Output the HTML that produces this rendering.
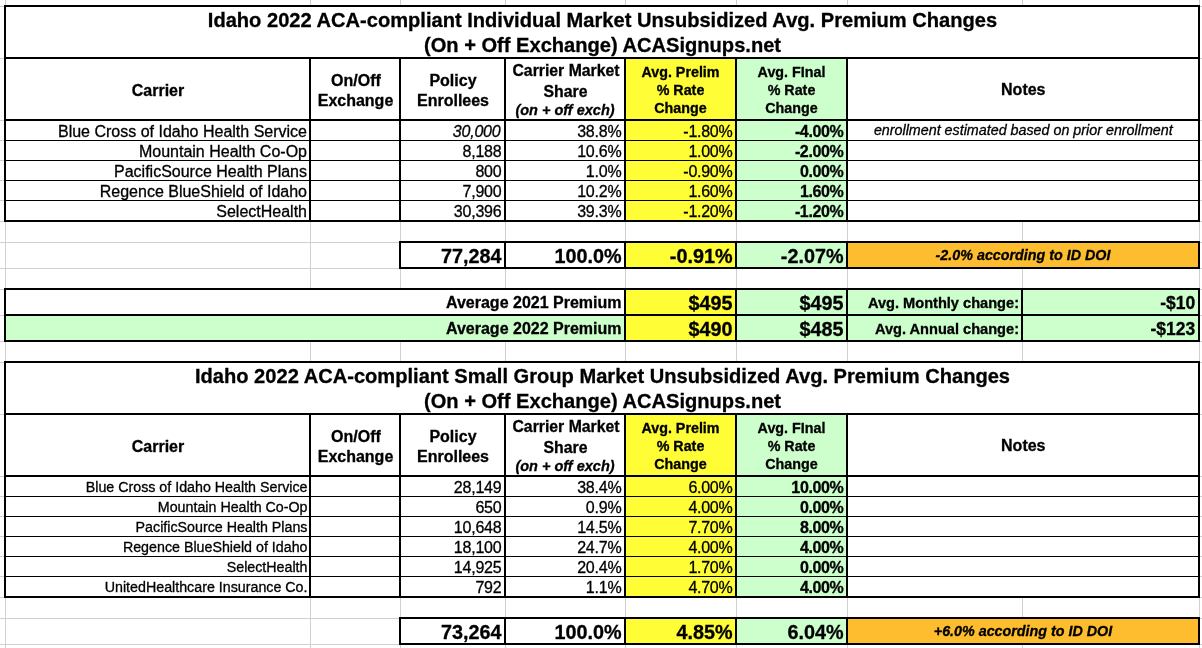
<!DOCTYPE html>
<html><head><meta charset="utf-8"><title>Idaho 2022 ACA Premium Changes</title>
<style>
html,body{margin:0;padding:0;background:#fff}
body{width:1202px;height:648px;position:relative;overflow:hidden;font-family:"Liberation Sans",Arial,Helvetica,sans-serif;color:#000}
.r{position:absolute}
.t{position:absolute;white-space:nowrap;-webkit-text-stroke:0.3px #000}
.b{font-weight:bold}
.i{font-style:italic}
</style></head><body>
<div class="r" style="left:626px;top:59px;width:109px;height:161px;background:#fffd36"></div>
<div class="r" style="left:737px;top:59px;width:109px;height:161px;background:#ccffcc"></div>
<div class="r" style="left:626px;top:243px;width:109px;height:24px;background:#fffd36"></div>
<div class="r" style="left:737px;top:243px;width:109px;height:24px;background:#ccffcc"></div>
<div class="r" style="left:848px;top:243px;width:350px;height:24px;background:#fdbd2e"></div>
<div class="r" style="left:626px;top:290px;width:109px;height:50px;background:#fffd36"></div>
<div class="r" style="left:737px;top:290px;width:461px;height:50px;background:#ccffcc"></div>
<div class="r" style="left:6px;top:316px;width:618px;height:24px;background:#ccffcc"></div>
<div class="r" style="left:626px;top:415px;width:109px;height:181px;background:#fffd36"></div>
<div class="r" style="left:737px;top:415px;width:109px;height:181px;background:#ccffcc"></div>
<div class="r" style="left:626px;top:619px;width:109px;height:24px;background:#fffd36"></div>
<div class="r" style="left:737px;top:619px;width:109px;height:24px;background:#ccffcc"></div>
<div class="r" style="left:848px;top:619px;width:350px;height:24px;background:#fdbd2e"></div>
<div class="r" style="left:5px;top:0px;width:1px;height:648px;background:#d0d0d0"></div>
<div class="r" style="left:310px;top:0px;width:1px;height:648px;background:#d0d0d0"></div>
<div class="r" style="left:400px;top:0px;width:1px;height:648px;background:#d0d0d0"></div>
<div class="r" style="left:505px;top:0px;width:1px;height:648px;background:#d0d0d0"></div>
<div class="r" style="left:625px;top:0px;width:1px;height:648px;background:#d0d0d0"></div>
<div class="r" style="left:736px;top:0px;width:1px;height:648px;background:#d0d0d0"></div>
<div class="r" style="left:847px;top:0px;width:1px;height:648px;background:#d0d0d0"></div>
<div class="r" style="left:1022px;top:0px;width:1px;height:648px;background:#d0d0d0"></div>
<div class="r" style="left:1199px;top:0px;width:1px;height:648px;background:#d0d0d0"></div>
<div class="r" style="left:0px;top:6px;width:1202px;height:1px;background:#d0d0d0"></div>
<div class="r" style="left:0px;top:58px;width:1202px;height:1px;background:#d0d0d0"></div>
<div class="r" style="left:0px;top:120px;width:1202px;height:1px;background:#d0d0d0"></div>
<div class="r" style="left:0px;top:140px;width:1202px;height:1px;background:#d0d0d0"></div>
<div class="r" style="left:0px;top:160px;width:1202px;height:1px;background:#d0d0d0"></div>
<div class="r" style="left:0px;top:180px;width:1202px;height:1px;background:#d0d0d0"></div>
<div class="r" style="left:0px;top:200px;width:1202px;height:1px;background:#d0d0d0"></div>
<div class="r" style="left:0px;top:221px;width:1202px;height:1px;background:#d0d0d0"></div>
<div class="r" style="left:0px;top:242px;width:1202px;height:1px;background:#d0d0d0"></div>
<div class="r" style="left:0px;top:268px;width:1202px;height:1px;background:#d0d0d0"></div>
<div class="r" style="left:0px;top:289px;width:1202px;height:1px;background:#d0d0d0"></div>
<div class="r" style="left:0px;top:315px;width:1202px;height:1px;background:#d0d0d0"></div>
<div class="r" style="left:0px;top:341px;width:1202px;height:1px;background:#d0d0d0"></div>
<div class="r" style="left:0px;top:362px;width:1202px;height:1px;background:#d0d0d0"></div>
<div class="r" style="left:0px;top:414px;width:1202px;height:1px;background:#d0d0d0"></div>
<div class="r" style="left:0px;top:476px;width:1202px;height:1px;background:#d0d0d0"></div>
<div class="r" style="left:0px;top:496px;width:1202px;height:1px;background:#d0d0d0"></div>
<div class="r" style="left:0px;top:516px;width:1202px;height:1px;background:#d0d0d0"></div>
<div class="r" style="left:0px;top:536px;width:1202px;height:1px;background:#d0d0d0"></div>
<div class="r" style="left:0px;top:556px;width:1202px;height:1px;background:#d0d0d0"></div>
<div class="r" style="left:0px;top:576px;width:1202px;height:1px;background:#d0d0d0"></div>
<div class="r" style="left:0px;top:597px;width:1202px;height:1px;background:#d0d0d0"></div>
<div class="r" style="left:0px;top:618px;width:1202px;height:1px;background:#d0d0d0"></div>
<div class="r" style="left:0px;top:644px;width:1202px;height:1px;background:#d0d0d0"></div>
<div class="r" style="left:6px;top:7px;width:1192px;height:50px;background:#fff"></div>
<div class="r" style="left:6px;top:59px;width:303px;height:60px;background:#fff"></div>
<div class="r" style="left:848px;top:59px;width:350px;height:60px;background:#fff"></div>
<div class="r" style="left:6px;top:363px;width:1192px;height:50px;background:#fff"></div>
<div class="r" style="left:6px;top:290px;width:618px;height:24px;background:#fff"></div>
<div class="r" style="left:848px;top:121px;width:350px;height:99px;background:#fff"></div>
<div class="r" style="left:6px;top:415px;width:303px;height:60px;background:#fff"></div>
<div class="r" style="left:848px;top:415px;width:350px;height:60px;background:#fff"></div>
<div class="r" style="left:848px;top:477px;width:350px;height:119px;background:#fff"></div>
<div class="r" style="left:626px;top:59px;width:109px;height:161px;background:#fffd36"></div>
<div class="r" style="left:737px;top:59px;width:109px;height:161px;background:#ccffcc"></div>
<div class="r" style="left:626px;top:243px;width:109px;height:24px;background:#fffd36"></div>
<div class="r" style="left:737px;top:243px;width:109px;height:24px;background:#ccffcc"></div>
<div class="r" style="left:848px;top:243px;width:350px;height:24px;background:#fdbd2e"></div>
<div class="r" style="left:626px;top:290px;width:109px;height:50px;background:#fffd36"></div>
<div class="r" style="left:737px;top:290px;width:461px;height:50px;background:#ccffcc"></div>
<div class="r" style="left:6px;top:316px;width:618px;height:24px;background:#ccffcc"></div>
<div class="r" style="left:626px;top:415px;width:109px;height:181px;background:#fffd36"></div>
<div class="r" style="left:737px;top:415px;width:109px;height:181px;background:#ccffcc"></div>
<div class="r" style="left:626px;top:619px;width:109px;height:24px;background:#fffd36"></div>
<div class="r" style="left:737px;top:619px;width:109px;height:24px;background:#ccffcc"></div>
<div class="r" style="left:848px;top:619px;width:350px;height:24px;background:#fdbd2e"></div>
<div class="r" style="left:4px;top:5px;width:1196px;height:2px;background:#000"></div>
<div class="r" style="left:4px;top:57px;width:1196px;height:2px;background:#000"></div>
<div class="r" style="left:4px;top:119px;width:1196px;height:2px;background:#000"></div>
<div class="r" style="left:4px;top:220px;width:1196px;height:2px;background:#000"></div>
<div class="r" style="left:4px;top:140px;width:1196px;height:1px;background:#000"></div>
<div class="r" style="left:4px;top:160px;width:1196px;height:1px;background:#000"></div>
<div class="r" style="left:4px;top:180px;width:1196px;height:1px;background:#000"></div>
<div class="r" style="left:4px;top:200px;width:1196px;height:1px;background:#000"></div>
<div class="r" style="left:4px;top:5px;width:2px;height:217px;background:#000"></div>
<div class="r" style="left:1198px;top:5px;width:2px;height:217px;background:#000"></div>
<div class="r" style="left:309px;top:57px;width:2px;height:165px;background:#000"></div>
<div class="r" style="left:399px;top:57px;width:2px;height:165px;background:#000"></div>
<div class="r" style="left:504px;top:57px;width:2px;height:165px;background:#000"></div>
<div class="r" style="left:624px;top:57px;width:2px;height:165px;background:#000"></div>
<div class="r" style="left:735px;top:57px;width:2px;height:165px;background:#000"></div>
<div class="r" style="left:846px;top:57px;width:2px;height:165px;background:#000"></div>
<div class="r" style="left:4px;top:361px;width:1196px;height:2px;background:#000"></div>
<div class="r" style="left:4px;top:413px;width:1196px;height:2px;background:#000"></div>
<div class="r" style="left:4px;top:475px;width:1196px;height:2px;background:#000"></div>
<div class="r" style="left:4px;top:596px;width:1196px;height:2px;background:#000"></div>
<div class="r" style="left:4px;top:496px;width:1196px;height:1px;background:#000"></div>
<div class="r" style="left:4px;top:516px;width:1196px;height:1px;background:#000"></div>
<div class="r" style="left:4px;top:536px;width:1196px;height:1px;background:#000"></div>
<div class="r" style="left:4px;top:556px;width:1196px;height:1px;background:#000"></div>
<div class="r" style="left:4px;top:576px;width:1196px;height:1px;background:#000"></div>
<div class="r" style="left:4px;top:361px;width:2px;height:237px;background:#000"></div>
<div class="r" style="left:1198px;top:361px;width:2px;height:237px;background:#000"></div>
<div class="r" style="left:309px;top:413px;width:2px;height:185px;background:#000"></div>
<div class="r" style="left:399px;top:413px;width:2px;height:185px;background:#000"></div>
<div class="r" style="left:504px;top:413px;width:2px;height:185px;background:#000"></div>
<div class="r" style="left:624px;top:413px;width:2px;height:185px;background:#000"></div>
<div class="r" style="left:735px;top:413px;width:2px;height:185px;background:#000"></div>
<div class="r" style="left:846px;top:413px;width:2px;height:185px;background:#000"></div>
<div class="r" style="left:399px;top:241px;width:801px;height:2px;background:#000"></div>
<div class="r" style="left:399px;top:267px;width:801px;height:2px;background:#000"></div>
<div class="r" style="left:399px;top:241px;width:2px;height:28px;background:#000"></div>
<div class="r" style="left:504px;top:241px;width:2px;height:28px;background:#000"></div>
<div class="r" style="left:624px;top:241px;width:2px;height:28px;background:#000"></div>
<div class="r" style="left:735px;top:241px;width:2px;height:28px;background:#000"></div>
<div class="r" style="left:846px;top:241px;width:2px;height:28px;background:#000"></div>
<div class="r" style="left:1198px;top:241px;width:2px;height:28px;background:#000"></div>
<div class="r" style="left:399px;top:617px;width:801px;height:2px;background:#000"></div>
<div class="r" style="left:399px;top:643px;width:801px;height:2px;background:#000"></div>
<div class="r" style="left:399px;top:617px;width:2px;height:28px;background:#000"></div>
<div class="r" style="left:504px;top:617px;width:2px;height:28px;background:#000"></div>
<div class="r" style="left:624px;top:617px;width:2px;height:28px;background:#000"></div>
<div class="r" style="left:735px;top:617px;width:2px;height:28px;background:#000"></div>
<div class="r" style="left:846px;top:617px;width:2px;height:28px;background:#000"></div>
<div class="r" style="left:1198px;top:617px;width:2px;height:28px;background:#000"></div>
<div class="r" style="left:4px;top:288px;width:1196px;height:2px;background:#000"></div>
<div class="r" style="left:4px;top:314px;width:1196px;height:2px;background:#000"></div>
<div class="r" style="left:4px;top:340px;width:1196px;height:2px;background:#000"></div>
<div class="r" style="left:4px;top:288px;width:2px;height:54px;background:#000"></div>
<div class="r" style="left:624px;top:288px;width:2px;height:54px;background:#000"></div>
<div class="r" style="left:735px;top:288px;width:2px;height:54px;background:#000"></div>
<div class="r" style="left:846px;top:288px;width:2px;height:54px;background:#000"></div>
<div class="r" style="left:1021px;top:288px;width:2px;height:54px;background:#000"></div>
<div class="r" style="left:1198px;top:288px;width:2px;height:54px;background:#000"></div>
<div class="t b" style="top:10px;font-size:20.1px;line-height:20.1px;left:2.5px;width:1200px;text-align:center;">Idaho 2022 ACA-compliant Individual Market Unsubsidized Avg. Premium Changes</div>
<div class="t b" style="top:35px;font-size:20.1px;line-height:20.1px;left:2.5px;width:1200px;text-align:center;">(On + Off Exchange) ACASignups.net</div>
<div class="t b" style="top:366px;font-size:20.1px;line-height:20.1px;left:2.5px;width:1200px;text-align:center;">Idaho 2022 ACA-compliant Small Group Market Unsubsidized Avg. Premium Changes</div>
<div class="t b" style="top:391px;font-size:20.1px;line-height:20.1px;left:2.5px;width:1200px;text-align:center;">(On + Off Exchange) ACASignups.net</div>
<div class="t b" style="top:83px;font-size:16px;line-height:16px;left:-442px;width:1200px;text-align:center;">Carrier</div>
<div class="t b" style="top:73px;font-size:16px;line-height:16px;left:-244px;width:1200px;text-align:center;">On/Off</div>
<div class="t b" style="top:93px;font-size:16px;line-height:16px;left:-244.5px;width:1200px;text-align:center;">Exchange</div>
<div class="t b" style="top:73px;font-size:16px;line-height:16px;left:-147px;width:1200px;text-align:center;">Policy</div>
<div class="t b" style="top:93px;font-size:16px;line-height:16px;left:-147px;width:1200px;text-align:center;">Enrollees</div>
<div class="t b" style="top:63px;font-size:15.8px;line-height:15.8px;left:-34px;width:1200px;text-align:center;">Carrier Market</div>
<div class="t b" style="top:84px;font-size:15.8px;line-height:15.8px;left:-34.5px;width:1200px;text-align:center;">Share</div>
<div class="t b i" style="top:103px;font-size:14.5px;line-height:14.5px;left:-35px;width:1200px;text-align:center;">(on + off exch)</div>
<div class="t b" style="top:65px;font-size:14.3px;line-height:14.3px;left:80.5px;width:1200px;text-align:center;">Avg. Prelim</div>
<div class="t b" style="top:83px;font-size:14.3px;line-height:14.3px;left:80.5px;width:1200px;text-align:center;">% Rate</div>
<div class="t b" style="top:101px;font-size:14.3px;line-height:14.3px;left:80.5px;width:1200px;text-align:center;">Change</div>
<div class="t b" style="top:65px;font-size:14.3px;line-height:14.3px;left:191.5px;width:1200px;text-align:center;">Avg. FInal</div>
<div class="t b" style="top:83px;font-size:14.3px;line-height:14.3px;left:191.5px;width:1200px;text-align:center;">% Rate</div>
<div class="t b" style="top:101px;font-size:14.3px;line-height:14.3px;left:191.5px;width:1200px;text-align:center;">Change</div>
<div class="t b" style="top:82px;font-size:16px;line-height:16px;left:423.29999999999995px;width:1200px;text-align:center;">Notes</div>
<div class="t b" style="top:439px;font-size:16px;line-height:16px;left:-442px;width:1200px;text-align:center;">Carrier</div>
<div class="t b" style="top:429px;font-size:16px;line-height:16px;left:-244px;width:1200px;text-align:center;">On/Off</div>
<div class="t b" style="top:449px;font-size:16px;line-height:16px;left:-244.5px;width:1200px;text-align:center;">Exchange</div>
<div class="t b" style="top:429px;font-size:16px;line-height:16px;left:-147px;width:1200px;text-align:center;">Policy</div>
<div class="t b" style="top:449px;font-size:16px;line-height:16px;left:-147px;width:1200px;text-align:center;">Enrollees</div>
<div class="t b" style="top:419px;font-size:15.8px;line-height:15.8px;left:-34px;width:1200px;text-align:center;">Carrier Market</div>
<div class="t b" style="top:440px;font-size:15.8px;line-height:15.8px;left:-34.5px;width:1200px;text-align:center;">Share</div>
<div class="t b i" style="top:459px;font-size:14.5px;line-height:14.5px;left:-35px;width:1200px;text-align:center;">(on + off exch)</div>
<div class="t b" style="top:421px;font-size:14.3px;line-height:14.3px;left:80.5px;width:1200px;text-align:center;">Avg. Prelim</div>
<div class="t b" style="top:439px;font-size:14.3px;line-height:14.3px;left:80.5px;width:1200px;text-align:center;">% Rate</div>
<div class="t b" style="top:457px;font-size:14.3px;line-height:14.3px;left:80.5px;width:1200px;text-align:center;">Change</div>
<div class="t b" style="top:421px;font-size:14.3px;line-height:14.3px;left:191.5px;width:1200px;text-align:center;">Avg. FInal</div>
<div class="t b" style="top:439px;font-size:14.3px;line-height:14.3px;left:191.5px;width:1200px;text-align:center;">% Rate</div>
<div class="t b" style="top:457px;font-size:14.3px;line-height:14.3px;left:191.5px;width:1200px;text-align:center;">Change</div>
<div class="t b" style="top:438px;font-size:16px;line-height:16px;left:423.29999999999995px;width:1200px;text-align:center;">Notes</div>
<div class="t " style="top:124px;font-size:16px;line-height:16px;right:895px;">Blue Cross of Idaho Health Service</div>
<div class="t i" style="top:124px;font-size:16px;line-height:16px;letter-spacing:-0.2px;right:701.5px;">30,000</div>
<div class="t " style="top:124px;font-size:16px;line-height:16px;letter-spacing:-0.2px;right:580.5px;">38.8%</div>
<div class="t " style="top:124px;font-size:16px;line-height:16px;letter-spacing:-0.25px;right:469.5px;">-1.80%</div>
<div class="t b" style="top:124px;font-size:16px;line-height:16px;letter-spacing:-0.35px;right:358.5px;">-4.00%</div>
<div class="t i" style="top:123px;font-size:14.3px;line-height:14.3px;left:423.29999999999995px;width:1200px;text-align:center;">enrollment estimated based on prior enrollment</div>
<div class="t " style="top:144px;font-size:16px;line-height:16px;right:895px;">Mountain Health Co-Op</div>
<div class="t " style="top:144px;font-size:16px;line-height:16px;letter-spacing:-0.2px;right:700.5px;">8,188</div>
<div class="t " style="top:144px;font-size:16px;line-height:16px;letter-spacing:-0.2px;right:580.5px;">10.6%</div>
<div class="t " style="top:144px;font-size:16px;line-height:16px;letter-spacing:-0.25px;right:469.5px;">1.00%</div>
<div class="t b" style="top:144px;font-size:16px;line-height:16px;letter-spacing:-0.35px;right:358.5px;">-2.00%</div>
<div class="t " style="top:164px;font-size:16px;line-height:16px;right:895px;">PacificSource Health Plans</div>
<div class="t " style="top:164px;font-size:16px;line-height:16px;letter-spacing:-0.2px;right:700.5px;">800</div>
<div class="t " style="top:164px;font-size:16px;line-height:16px;letter-spacing:-0.2px;right:580.5px;">1.0%</div>
<div class="t " style="top:164px;font-size:16px;line-height:16px;letter-spacing:-0.25px;right:469.5px;">-0.90%</div>
<div class="t b" style="top:164px;font-size:16px;line-height:16px;letter-spacing:-0.35px;right:358.5px;">0.00%</div>
<div class="t " style="top:184px;font-size:16px;line-height:16px;right:895px;">Regence BlueShield of Idaho</div>
<div class="t " style="top:184px;font-size:16px;line-height:16px;letter-spacing:-0.2px;right:700.5px;">7,900</div>
<div class="t " style="top:184px;font-size:16px;line-height:16px;letter-spacing:-0.2px;right:580.5px;">10.2%</div>
<div class="t " style="top:184px;font-size:16px;line-height:16px;letter-spacing:-0.25px;right:469.5px;">1.60%</div>
<div class="t b" style="top:184px;font-size:16px;line-height:16px;letter-spacing:-0.35px;right:358.5px;">1.60%</div>
<div class="t " style="top:204px;font-size:16px;line-height:16px;right:895px;">SelectHealth</div>
<div class="t " style="top:204px;font-size:16px;line-height:16px;letter-spacing:-0.2px;right:700.5px;">30,396</div>
<div class="t " style="top:204px;font-size:16px;line-height:16px;letter-spacing:-0.2px;right:580.5px;">39.3%</div>
<div class="t " style="top:204px;font-size:16px;line-height:16px;letter-spacing:-0.25px;right:469.5px;">-1.20%</div>
<div class="t b" style="top:204px;font-size:16px;line-height:16px;letter-spacing:-0.35px;right:358.5px;">-1.20%</div>
<div class="t " style="top:480px;font-size:14.25px;line-height:14.25px;right:894.5px;">Blue Cross of Idaho Health Service</div>
<div class="t " style="top:480px;font-size:16px;line-height:16px;letter-spacing:-0.2px;right:700.5px;">28,149</div>
<div class="t " style="top:480px;font-size:16px;line-height:16px;letter-spacing:-0.2px;right:580.5px;">38.4%</div>
<div class="t " style="top:480px;font-size:16px;line-height:16px;letter-spacing:-0.25px;right:469.5px;">6.00%</div>
<div class="t b" style="top:480px;font-size:16px;line-height:16px;letter-spacing:-0.35px;right:358.5px;">10.00%</div>
<div class="t " style="top:500px;font-size:14.25px;line-height:14.25px;right:894.5px;">Mountain Health Co-Op</div>
<div class="t " style="top:500px;font-size:16px;line-height:16px;letter-spacing:-0.2px;right:700.5px;">650</div>
<div class="t " style="top:500px;font-size:16px;line-height:16px;letter-spacing:-0.2px;right:580.5px;">0.9%</div>
<div class="t " style="top:500px;font-size:16px;line-height:16px;letter-spacing:-0.25px;right:469.5px;">4.00%</div>
<div class="t b" style="top:500px;font-size:16px;line-height:16px;letter-spacing:-0.35px;right:358.5px;">0.00%</div>
<div class="t " style="top:520px;font-size:14.25px;line-height:14.25px;right:894.5px;">PacificSource Health Plans</div>
<div class="t " style="top:520px;font-size:16px;line-height:16px;letter-spacing:-0.2px;right:700.5px;">10,648</div>
<div class="t " style="top:520px;font-size:16px;line-height:16px;letter-spacing:-0.2px;right:580.5px;">14.5%</div>
<div class="t " style="top:520px;font-size:16px;line-height:16px;letter-spacing:-0.25px;right:469.5px;">7.70%</div>
<div class="t b" style="top:520px;font-size:16px;line-height:16px;letter-spacing:-0.35px;right:358.5px;">8.00%</div>
<div class="t " style="top:540px;font-size:14.25px;line-height:14.25px;right:894.5px;">Regence BlueShield of Idaho</div>
<div class="t " style="top:540px;font-size:16px;line-height:16px;letter-spacing:-0.2px;right:700.5px;">18,100</div>
<div class="t " style="top:540px;font-size:16px;line-height:16px;letter-spacing:-0.2px;right:580.5px;">24.7%</div>
<div class="t " style="top:540px;font-size:16px;line-height:16px;letter-spacing:-0.25px;right:469.5px;">4.00%</div>
<div class="t b" style="top:540px;font-size:16px;line-height:16px;letter-spacing:-0.35px;right:358.5px;">4.00%</div>
<div class="t " style="top:560px;font-size:14.25px;line-height:14.25px;right:894.5px;">SelectHealth</div>
<div class="t " style="top:560px;font-size:16px;line-height:16px;letter-spacing:-0.2px;right:700.5px;">14,925</div>
<div class="t " style="top:560px;font-size:16px;line-height:16px;letter-spacing:-0.2px;right:580.5px;">20.4%</div>
<div class="t " style="top:560px;font-size:16px;line-height:16px;letter-spacing:-0.25px;right:469.5px;">1.70%</div>
<div class="t b" style="top:560px;font-size:16px;line-height:16px;letter-spacing:-0.35px;right:358.5px;">0.00%</div>
<div class="t " style="top:580px;font-size:14.25px;line-height:14.25px;right:894.5px;">UnitedHealthcare Insurance Co.</div>
<div class="t " style="top:580px;font-size:16px;line-height:16px;letter-spacing:-0.2px;right:700.5px;">792</div>
<div class="t " style="top:580px;font-size:16px;line-height:16px;letter-spacing:-0.2px;right:580.5px;">1.1%</div>
<div class="t " style="top:580px;font-size:16px;line-height:16px;letter-spacing:-0.25px;right:469.5px;">4.70%</div>
<div class="t b" style="top:580px;font-size:16px;line-height:16px;letter-spacing:-0.35px;right:358.5px;">4.00%</div>
<div class="t b" style="top:247px;font-size:19.8px;line-height:19.8px;right:700.5px;">77,284</div>
<div class="t b" style="top:247px;font-size:19.8px;line-height:19.8px;right:580.5px;">100.0%</div>
<div class="t b" style="top:247px;font-size:19.8px;line-height:19.8px;right:469.5px;">-0.91%</div>
<div class="t b" style="top:247px;font-size:19.8px;line-height:19.8px;right:358.5px;">-2.07%</div>
<div class="t b i" style="top:248px;font-size:14.3px;line-height:14.3px;left:423px;width:1200px;text-align:center;">-2.0% according to ID DOI</div>
<div class="t b" style="top:623px;font-size:19.8px;line-height:19.8px;right:700.5px;">73,264</div>
<div class="t b" style="top:623px;font-size:19.8px;line-height:19.8px;right:580.5px;">100.0%</div>
<div class="t b" style="top:623px;font-size:19.8px;line-height:19.8px;right:469.5px;">4.85%</div>
<div class="t b" style="top:623px;font-size:19.8px;line-height:19.8px;right:358.5px;">6.04%</div>
<div class="t b i" style="top:624px;font-size:14.3px;line-height:14.3px;left:423px;width:1200px;text-align:center;">+6.0% according to ID DOI</div>
<div class="t b" style="top:295px;font-size:16px;line-height:16px;right:580.5px;">Average 2021 Premium</div>
<div class="t b" style="top:294px;font-size:19.8px;line-height:19.8px;right:469.5px;">$495</div>
<div class="t b" style="top:294px;font-size:19.8px;line-height:19.8px;right:358.5px;">$495</div>
<div class="t b" style="top:296px;font-size:14.6px;line-height:14.6px;right:183px;">Avg. Monthly change:</div>
<div class="t b" style="top:295px;font-size:17.5px;line-height:17.5px;right:6.7000000000000455px;">-$10</div>
<div class="t b" style="top:321px;font-size:16px;line-height:16px;right:580.5px;">Average 2022 Premium</div>
<div class="t b" style="top:320px;font-size:19.8px;line-height:19.8px;right:469.5px;">$490</div>
<div class="t b" style="top:320px;font-size:19.8px;line-height:19.8px;right:358.5px;">$485</div>
<div class="t b" style="top:322px;font-size:14.6px;line-height:14.6px;right:183px;">Avg. Annual change:</div>
<div class="t b" style="top:321px;font-size:17.5px;line-height:17.5px;right:6.7000000000000455px;">-$123</div>
</body></html>
